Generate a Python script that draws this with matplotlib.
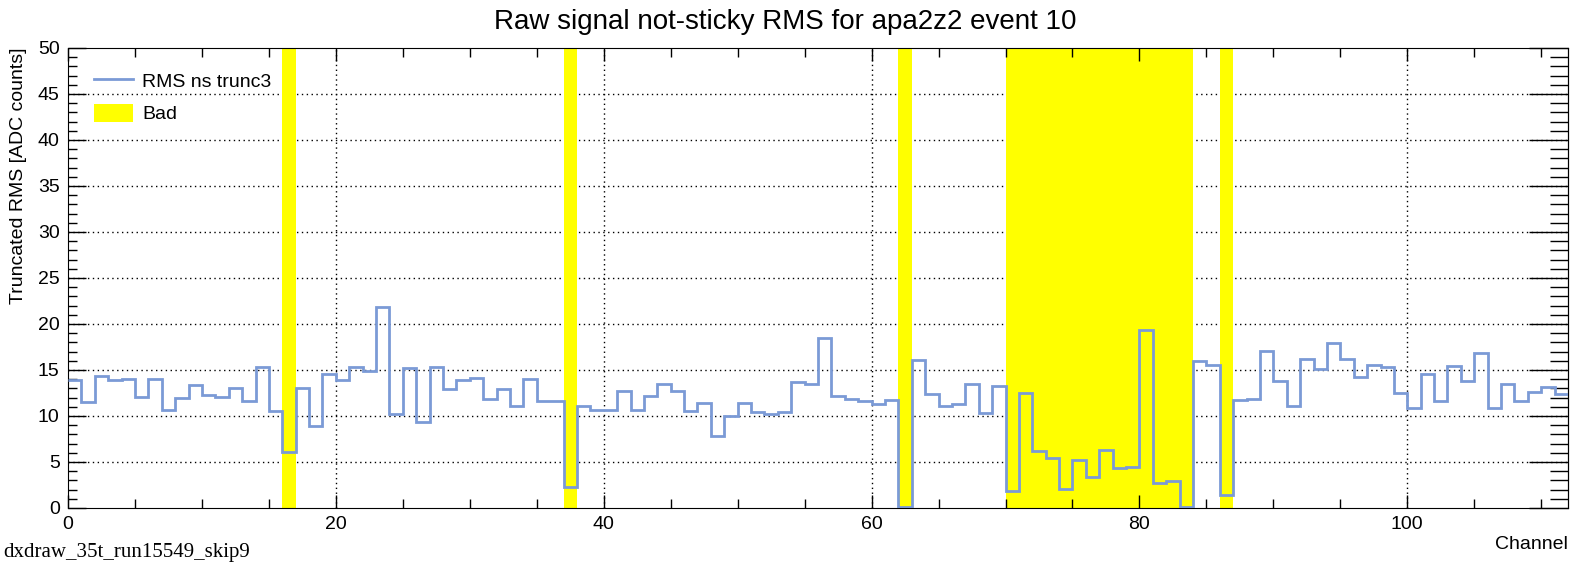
import numpy as np
import matplotlib.pyplot as plt
from matplotlib.patches import Patch
from matplotlib.lines import Line2D
from matplotlib.ticker import MultipleLocator

# truncated RMS per channel (channels 0..111)
rms = [
    13.9, 11.5, 14.3, 13.9, 14.05, 12.1, 14.05, 10.7, 12.0, 13.4,
    12.3, 12.05, 13.0, 11.6, 15.3, 10.5, 6.1, 13.0, 8.9, 14.55,
    13.9, 15.3, 14.9, 21.8, 10.2, 15.2, 9.4, 15.3, 12.95, 13.9,
    14.15, 11.9, 12.95, 11.1, 14.05, 11.6, 11.6, 2.3, 11.1, 10.6,
    10.7, 12.7, 10.7, 12.2, 13.45, 12.7, 10.55, 11.45, 7.8, 9.95,
    11.45, 10.4, 10.2, 10.45, 13.7, 13.45, 18.45, 12.2, 11.9, 11.6,
    11.3, 11.75, 0.1, 16.1, 12.4, 11.05, 11.35, 13.45, 10.3, 13.3,
    1.8, 12.55, 6.15, 5.45, 2.05, 5.2, 3.4, 6.35, 4.4, 4.5,
    19.4, 2.7, 2.95, 0.1, 15.95, 15.55, 1.4, 11.75, 11.9, 17.05,
    13.85, 11.1, 16.25, 15.1, 17.95, 16.25, 14.2, 15.55, 15.35, 12.55,
    10.85, 14.55, 11.6, 15.45, 13.85, 16.9, 10.85, 13.45, 11.6, 12.65,
    13.2, 12.4,
]
channels = np.arange(len(rms) + 1)

# bad channel ranges [start, end)
bad_ranges = [(16, 17), (37, 38), (62, 63), (70, 84), (86, 87)]

line_color = "#7b9ad6"
px = 72 / 100  # points per pixel at dpi 100

plt.rcParams["font.family"] = ["Liberation Sans", "DejaVu Sans"]

fig = plt.figure(figsize=(15.71, 5.65), dpi=100)
ax = fig.add_axes([68 / 1571, 1 - 508 / 565, 1500 / 1571, 460 / 565])

ax.set_xlim(0, len(rms))
ax.set_ylim(0, 50)

ax.xaxis.set_major_locator(MultipleLocator(20))
ax.xaxis.set_minor_locator(MultipleLocator(5))
ax.yaxis.set_major_locator(MultipleLocator(5))
ax.yaxis.set_minor_locator(MultipleLocator(1))

# dotted grid under everything
for xv in np.arange(20, len(rms), 20):
    ax.axvline(xv, color="black", lw=1.0, ls=(0, (1, 2.5)), zorder=0.3)
for yv in np.arange(5, 50, 5):
    ax.axhline(yv, color="black", lw=1.0, ls=(0, (1, 2.5)), zorder=0.3)

for a, b in bad_ranges:
    ax.axvspan(a, b, color="#ffff00", lw=0, zorder=1)

ax.stairs(rms, channels, baseline=None, color=line_color, lw=2.0, zorder=3)

ax.tick_params(axis="x", which="major", direction="in", length=13 * px, top=True,
               labelsize=14, pad=6, width=1)
ax.tick_params(axis="x", which="minor", direction="in", length=9 * px, top=True, width=1)
ax.tick_params(axis="y", which="major", direction="in", length=18 * px, right=False,
               labelsize=14, pad=6, width=1)
ax.tick_params(axis="y", which="minor", direction="in", length=9 * px, right=False, width=1)

sec = ax.secondary_yaxis("right")
sec.yaxis.set_major_locator(MultipleLocator(5))
sec.yaxis.set_minor_locator(MultipleLocator(1))
sec.tick_params(which="major", direction="in", length=39 * px, labelright=False, width=1)
sec.tick_params(which="minor", direction="in", length=18 * px, labelright=False, width=1)

fig.text(0.5, 1 - 22 / 565, "Raw signal not-sticky RMS for apa2z2 event 10",
         fontsize=20, ha="center", va="center")
ax.set_ylabel("Truncated RMS [ADC counts]", fontsize=14, loc="top", labelpad=8)
ax.set_xlabel("Channel", fontsize=14, loc="right", labelpad=2)

handles = [Line2D([], [], color=line_color, lw=2.0),
           Patch(facecolor="#ffff00", edgecolor="none")]
ax.legend(handles, ["RMS ns trunc3", "Bad"], loc="upper left", frameon=False,
          fontsize=14, handlelength=2.0, handleheight=1.1, handletextpad=0.5,
          borderaxespad=0.0, bbox_to_anchor=(0.012, 0.967), labelspacing=0.65)

fig.text(3 / 1571, 1 - 552 / 565, "dxdraw_35t_run15549_skip9", fontsize=15,
         family="Liberation Serif", va="center", ha="left")

fig.savefig("out.png", dpi=100)
